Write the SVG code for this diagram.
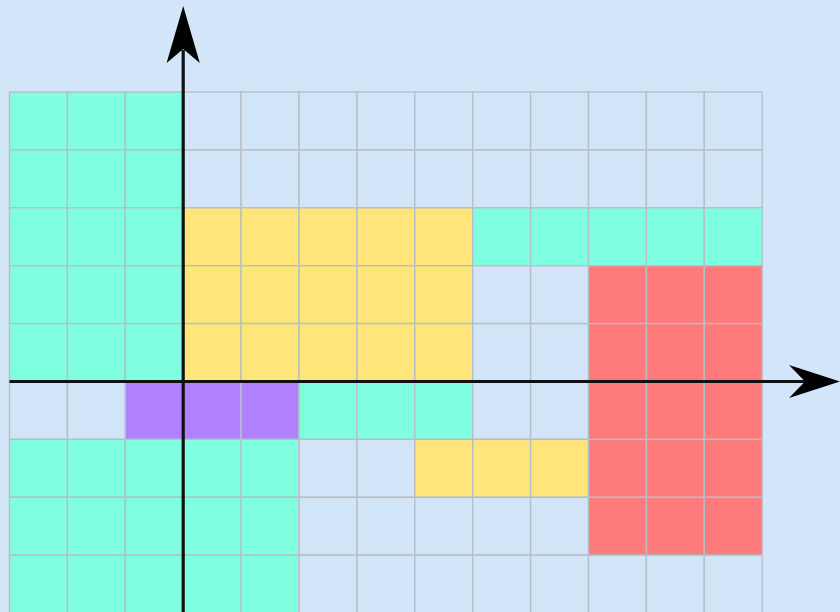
<svg xmlns="http://www.w3.org/2000/svg" width="840" height="612" viewBox="0 0 840 612">
<style>
.c rect{stroke:#b8bec6;stroke-width:1.4}
.e{fill:#d2e4f8}
.t{fill:#7fffe0}
.y{fill:#ffe57a}
.r{fill:#ff7a7a}
.p{fill:#b080ff}
.ax{stroke:#111;stroke-width:3.2;fill:none}
.ah{fill:#000}
</style>
<rect width="840" height="612" fill="#d3e5f9"/>
<g id="grid" class="c" transform="translate(9.5,92)">
<!-- row 0 -->
<rect class="t" x="0" y="0" width="57.9" height="57.9"/><rect class="t" x="57.9" y="0" width="57.9" height="57.9"/><rect class="t" x="115.8" y="0" width="57.9" height="57.9"/>
<rect class="e" x="173.7" y="0" width="57.9" height="57.9"/><rect class="e" x="231.6" y="0" width="57.9" height="57.9"/><rect class="e" x="289.5" y="0" width="57.9" height="57.9"/><rect class="e" x="347.4" y="0" width="57.9" height="57.9"/><rect class="e" x="405.3" y="0" width="57.9" height="57.9"/><rect class="e" x="463.2" y="0" width="57.9" height="57.9"/><rect class="e" x="521.1" y="0" width="57.9" height="57.9"/><rect class="e" x="579" y="0" width="57.9" height="57.9"/><rect class="e" x="636.9" y="0" width="57.9" height="57.9"/><rect class="e" x="694.8" y="0" width="57.9" height="57.9"/>
<!-- row 1 -->
<rect class="t" x="0" y="57.9" width="57.9" height="57.9"/><rect class="t" x="57.9" y="57.9" width="57.9" height="57.9"/><rect class="t" x="115.8" y="57.9" width="57.9" height="57.9"/>
<rect class="e" x="173.7" y="57.9" width="57.9" height="57.9"/><rect class="e" x="231.6" y="57.9" width="57.9" height="57.9"/><rect class="e" x="289.5" y="57.9" width="57.9" height="57.9"/><rect class="e" x="347.4" y="57.9" width="57.9" height="57.9"/><rect class="e" x="405.3" y="57.9" width="57.9" height="57.9"/><rect class="e" x="463.2" y="57.9" width="57.9" height="57.9"/><rect class="e" x="521.1" y="57.9" width="57.9" height="57.9"/><rect class="e" x="579" y="57.9" width="57.9" height="57.9"/><rect class="e" x="636.9" y="57.9" width="57.9" height="57.9"/><rect class="e" x="694.8" y="57.9" width="57.9" height="57.9"/>
<!-- row 2 -->
<rect class="t" x="0" y="115.8" width="57.9" height="57.9"/><rect class="t" x="57.9" y="115.8" width="57.9" height="57.9"/><rect class="t" x="115.8" y="115.8" width="57.9" height="57.9"/>
<rect class="y" x="173.7" y="115.8" width="57.9" height="57.9"/><rect class="y" x="231.6" y="115.8" width="57.9" height="57.9"/><rect class="y" x="289.5" y="115.8" width="57.9" height="57.9"/><rect class="y" x="347.4" y="115.8" width="57.9" height="57.9"/><rect class="y" x="405.3" y="115.8" width="57.9" height="57.9"/>
<rect class="t" x="463.2" y="115.8" width="57.9" height="57.9"/><rect class="t" x="521.1" y="115.8" width="57.9" height="57.9"/><rect class="t" x="579" y="115.8" width="57.9" height="57.9"/><rect class="t" x="636.9" y="115.8" width="57.9" height="57.9"/><rect class="t" x="694.8" y="115.8" width="57.9" height="57.9"/>
<!-- row 3 -->
<rect class="t" x="0" y="173.7" width="57.9" height="57.9"/><rect class="t" x="57.9" y="173.7" width="57.9" height="57.9"/><rect class="t" x="115.8" y="173.7" width="57.9" height="57.9"/>
<rect class="y" x="173.7" y="173.7" width="57.9" height="57.9"/><rect class="y" x="231.6" y="173.7" width="57.9" height="57.9"/><rect class="y" x="289.5" y="173.7" width="57.9" height="57.9"/><rect class="y" x="347.4" y="173.7" width="57.9" height="57.9"/><rect class="y" x="405.3" y="173.7" width="57.9" height="57.9"/>
<rect class="e" x="463.2" y="173.7" width="57.9" height="57.9"/><rect class="e" x="521.1" y="173.7" width="57.9" height="57.9"/>
<rect class="r" x="579" y="173.7" width="57.9" height="57.9"/><rect class="r" x="636.9" y="173.7" width="57.9" height="57.9"/><rect class="r" x="694.8" y="173.7" width="57.9" height="57.9"/>
<!-- row 4 -->
<rect class="t" x="0" y="231.6" width="57.9" height="57.9"/><rect class="t" x="57.9" y="231.6" width="57.9" height="57.9"/><rect class="t" x="115.8" y="231.6" width="57.9" height="57.9"/>
<rect class="y" x="173.7" y="231.6" width="57.9" height="57.9"/><rect class="y" x="231.6" y="231.6" width="57.9" height="57.9"/><rect class="y" x="289.5" y="231.6" width="57.9" height="57.9"/><rect class="y" x="347.4" y="231.6" width="57.9" height="57.9"/><rect class="y" x="405.3" y="231.6" width="57.9" height="57.9"/>
<rect class="e" x="463.2" y="231.6" width="57.9" height="57.9"/><rect class="e" x="521.1" y="231.6" width="57.9" height="57.9"/>
<rect class="r" x="579" y="231.6" width="57.9" height="57.9"/><rect class="r" x="636.9" y="231.6" width="57.9" height="57.9"/><rect class="r" x="694.8" y="231.6" width="57.9" height="57.9"/>
<!-- row 5 -->
<rect class="e" x="0" y="289.5" width="57.9" height="57.9"/><rect class="e" x="57.9" y="289.5" width="57.9" height="57.9"/>
<rect class="p" x="115.8" y="289.5" width="57.9" height="57.9"/><rect class="p" x="173.7" y="289.5" width="57.9" height="57.9"/><rect class="p" x="231.6" y="289.5" width="57.9" height="57.9"/>
<rect class="t" x="289.5" y="289.5" width="57.9" height="57.9"/><rect class="t" x="347.4" y="289.5" width="57.9" height="57.9"/><rect class="t" x="405.3" y="289.5" width="57.9" height="57.9"/>
<rect class="e" x="463.2" y="289.5" width="57.9" height="57.9"/><rect class="e" x="521.1" y="289.5" width="57.9" height="57.9"/>
<rect class="r" x="579" y="289.5" width="57.9" height="57.9"/><rect class="r" x="636.9" y="289.5" width="57.9" height="57.9"/><rect class="r" x="694.8" y="289.5" width="57.9" height="57.9"/>
<!-- row 6 -->
<rect class="t" x="0" y="347.4" width="57.9" height="57.9"/><rect class="t" x="57.9" y="347.4" width="57.9" height="57.9"/><rect class="t" x="115.8" y="347.4" width="57.9" height="57.9"/><rect class="t" x="173.7" y="347.4" width="57.9" height="57.9"/><rect class="t" x="231.6" y="347.4" width="57.9" height="57.9"/>
<rect class="e" x="289.5" y="347.4" width="57.9" height="57.9"/><rect class="e" x="347.4" y="347.4" width="57.9" height="57.9"/>
<rect class="y" x="405.3" y="347.4" width="57.9" height="57.9"/><rect class="y" x="463.2" y="347.4" width="57.9" height="57.9"/><rect class="y" x="521.1" y="347.4" width="57.9" height="57.9"/>
<rect class="r" x="579" y="347.4" width="57.9" height="57.9"/><rect class="r" x="636.9" y="347.4" width="57.9" height="57.9"/><rect class="r" x="694.8" y="347.4" width="57.9" height="57.9"/>
<!-- row 7 -->
<rect class="t" x="0" y="405.3" width="57.9" height="57.9"/><rect class="t" x="57.9" y="405.3" width="57.9" height="57.9"/><rect class="t" x="115.8" y="405.3" width="57.9" height="57.9"/><rect class="t" x="173.7" y="405.3" width="57.9" height="57.9"/><rect class="t" x="231.6" y="405.3" width="57.9" height="57.9"/>
<rect class="e" x="289.5" y="405.3" width="57.9" height="57.9"/><rect class="e" x="347.4" y="405.3" width="57.9" height="57.9"/><rect class="e" x="405.3" y="405.3" width="57.9" height="57.9"/><rect class="e" x="463.2" y="405.3" width="57.9" height="57.9"/><rect class="e" x="521.1" y="405.3" width="57.9" height="57.9"/>
<rect class="r" x="579" y="405.3" width="57.9" height="57.9"/><rect class="r" x="636.9" y="405.3" width="57.9" height="57.9"/><rect class="r" x="694.8" y="405.3" width="57.9" height="57.9"/>
<!-- row 8 -->
<rect class="t" x="0" y="463.2" width="57.9" height="57.9"/><rect class="t" x="57.9" y="463.2" width="57.9" height="57.9"/><rect class="t" x="115.8" y="463.2" width="57.9" height="57.9"/><rect class="t" x="173.7" y="463.2" width="57.9" height="57.9"/><rect class="t" x="231.6" y="463.2" width="57.9" height="57.9"/>
<rect class="e" x="289.5" y="463.2" width="57.9" height="57.9"/><rect class="e" x="347.4" y="463.2" width="57.9" height="57.9"/><rect class="e" x="405.3" y="463.2" width="57.9" height="57.9"/><rect class="e" x="463.2" y="463.2" width="57.9" height="57.9"/><rect class="e" x="521.1" y="463.2" width="57.9" height="57.9"/><rect class="e" x="579" y="463.2" width="57.9" height="57.9"/><rect class="e" x="636.9" y="463.2" width="57.9" height="57.9"/><rect class="e" x="694.8" y="463.2" width="57.9" height="57.9"/>
</g>
<g id="axes">
<line class="ax" x1="183.2" y1="620" x2="183.2" y2="50"/>
<path class="ah" d="M183.2,6 L199.8,63 L183.2,49 L166.6,63 Z"/>
<line class="ax" x1="9.5" y1="381.5" x2="806" y2="381.5"/>
<path class="ah" d="M840,381.5 L789,365 L805,381.5 L789,398 Z"/>
</g>
</svg>
